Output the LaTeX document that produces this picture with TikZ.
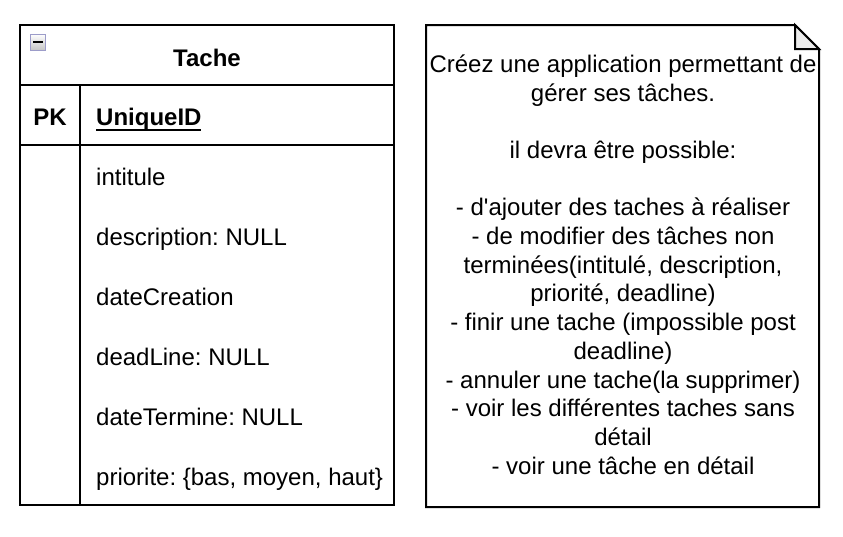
\documentclass[tikz,border=0pt]{standalone}
\usepackage{fontspec}
\setmainfont{Liberation Sans}
\frenchspacing
\begin{document}
\begin{tikzpicture}[x=1pt,y=-1pt,
  frame/.style={draw=black,line width=2pt},
  txt/.style={font=\fontsize{24}{28.7}\selectfont,inner sep=0pt,anchor=base},
  attr/.style={txt,anchor=base west},
  notetxt/.style={txt,anchor=base}]
\useasboundingbox (0,0) rectangle (843,536);

% ---- entity table ----
\draw[frame] (20,25) rectangle (394,505);
\draw[frame] (20,85) -- (394,85);
\draw[frame] (20,145) -- (394,145);
\draw[frame] (80,85) -- (80,505);

% collapse button
\shade[top color=white,bottom color=gray!45] (30,34) rectangle (45,50);
\draw[color=gray!70!blue!60,line width=1pt] (30,34) rectangle (45,50);
\fill[black] (32.5,41) rectangle (42.5,43);

\node[txt,font=\fontsize{24}{28.7}\selectfont\bfseries] (title) at (207,66) {Tache};
\node[txt,font=\fontsize{24}{28.7}\selectfont\bfseries] (pk) at (50,125) {PK};
\node[attr,font=\fontsize{24}{28.7}\selectfont\bfseries] (uid) at (96,125) {UniqueID};
\draw[line width=2pt] (uid.base west) ++(0,5) -- ++(105,0);

\node[attr] (a1) at (96,185) {intitule};
\node[attr] (a2) at (96,245) {description: NULL};
\node[attr] (a3) at (96,305) {dateCreation};
\node[attr] (a4) at (96,365) {deadLine: NULL};
\node[attr] (a5) at (96,425) {dateTermine: NULL};
\node[attr] (a6) at (96,485) {priorite: \{bas, moyen, haut\}};

% ---- note ----
\draw[frame,line join=miter] (426,25) -- (795,25) -- (819,49) -- (819,507) -- (426,507) -- cycle;
\filldraw[fill=black!8,draw=black,line width=2pt,line join=miter] (795,25) -- (795,49) -- (819,49) -- cycle;

\node[notetxt] (n0) at (623,72.3) {Créez une application permettant de};
\node[notetxt] (n1) at (623,101.0) {gérer ses tâches.};
\node[notetxt] (n3) at (623,158.4) {il devra être possible:};
\node[notetxt] (n5) at (623,215.8) {- d\textquotesingle ajouter des taches à réaliser};
\node[notetxt] (n6) at (623,244.5) {- de modifier des tâches non};
\node[notetxt] (n7) at (623,273.2) {terminées(intitulé, description,};
\node[notetxt] (n8) at (623,301.9) {priorité, deadline)};
\node[notetxt] (n9) at (623,330.6) {- finir une tache (impossible post};
\node[notetxt] (n10) at (623,359.3) {deadline)};
\node[notetxt] (n11) at (623,388.0) {- annuler une tache(la supprimer)};
\node[notetxt] (n12) at (623,416.7) {- voir les différentes taches sans};
\node[notetxt] (n13) at (623,445.4) {détail};
\node[notetxt] (n14) at (623,474.1) {- voir une tâche en détail};
\end{tikzpicture}
\end{document}
